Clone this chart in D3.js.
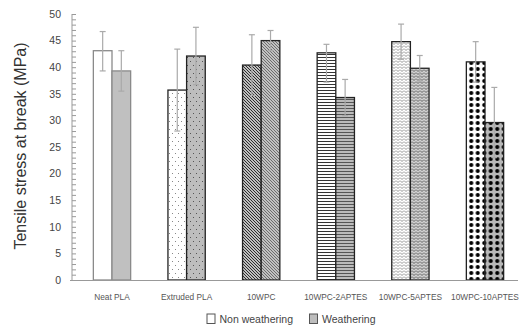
<!DOCTYPE html>
<html>
<head>
<meta charset="utf-8">
<script src="https://cdn.jsdelivr.net/npm/d3@7"></script>
<style>
  body { margin: 0; background: #fff; }
  svg { display: block; }
</style>
</head>
<body>
<script>
// data
var categories = ["Neat PLA", "Extruded PLA", "10WPC", "10WPC-2APTES", "10WPC-5APTES", "10WPC-10APTES"];
var seriesNames = ["Non weathering", "Weathering"];
var nonWeathering = [43.1, 35.7, 40.4, 42.7, 44.8, 41.0];
var weathering = [39.3, 42.1, 45.0, 34.3, 39.8, 29.6];
var nonErrUp = [3.6, 7.7, 5.7, 1.6, 3.3, 3.8];
var nonErrDown = [3.8, 7.7, 5.7, 5.5, 3.3, 3.8];
var weathErrUp = [3.8, 5.4, 1.9, 3.4, 2.4, 6.6];
var weathErrDown = [3.8, 5.4, 1.9, 3.4, 2.4, 6.6];
var yTicks = [0, 5, 10, 15, 20, 25, 30, 35, 40, 45, 50];

var width = 520, height = 331;
var svg = d3.select("body").append("svg").attr("width", width).attr("height", height)
  .style("font-family", "'Liberation Sans', Arial, sans-serif");

var defs = svg.append("defs");

function pat(id, w, h, bg) {
  var p = defs.append("pattern").attr("id", id).attr("patternUnits", "userSpaceOnUse")
    .attr("width", w).attr("height", h);
  p.append("rect").attr("width", w).attr("height", h).attr("fill", bg);
  return p;
}

// plain
pat("p0a", 4, 4, "#fff");
pat("p0b", 4, 4, "#c0c0c0");

// sparse dots
var d1 = pat("p1a", 6, 8, "#fff");
d1.append("rect").attr("x", 1).attr("y", 1).attr("width", 1).attr("height", 1).attr("fill", "#888");
d1.append("rect").attr("x", 4).attr("y", 5).attr("width", 1).attr("height", 1).attr("fill", "#888");
var d2 = pat("p1b", 6, 8, "#bdbdbd");
d2.append("rect").attr("x", 1).attr("y", 1).attr("width", 1).attr("height", 1).attr("fill", "#555");
d2.append("rect").attr("x", 4).attr("y", 5).attr("width", 1).attr("height", 1).attr("fill", "#555");

// diagonal hatch
var h1 = pat("p2a", 3, 3, "#fff");
h1.append("path").attr("d", "M-1,-1 L4,4 M-1,2 L1,4 M2,-1 L4,1").attr("stroke", "#222").attr("stroke-width", 1.1);
var h2 = pat("p2b", 3, 3, "#e6e6e6");
h2.append("path").attr("d", "M-1,-1 L4,4 M-1,2 L1,4 M2,-1 L4,1").attr("stroke", "#666").attr("stroke-width", 1.1);

// horizontal lines
var l1 = pat("p3a", 4, 3, "#fff");
l1.append("rect").attr("y", 0).attr("width", 4).attr("height", 1).attr("fill", "#333");
var l2 = pat("p3b", 4, 3, "#bbb");
l2.append("rect").attr("y", 0).attr("width", 4).attr("height", 1).attr("fill", "#555");

// zigzag
var z1 = pat("p4a", 4, 3, "#fff");
z1.append("path").attr("d", "M0,0.5 L2,2.5 L4,0.5").attr("fill", "none").attr("stroke", "#777").attr("stroke-width", 0.8);
var z2 = pat("p4b", 4, 3, "#d0d0d0");
z2.append("path").attr("d", "M0,0.5 L2,2.5 L4,0.5").attr("fill", "none").attr("stroke", "#444").attr("stroke-width", 0.8);

// big dots
var c1 = pat("p5a", 6.5, 6, "#fff");
c1.append("circle").attr("cx", 3.25).attr("cy", 3).attr("r", 2.1).attr("fill", "#000");
var c2 = pat("p5b", 6.5, 6, "#b8b8b8");
c2.append("circle").attr("cx", 3.25).attr("cy", 3).attr("r", 2.1).attr("fill", "#000");

var y = d3.scaleLinear().domain([0, 50]).range([280, 14]);
var x0 = d3.scaleBand().domain(categories).range([74.7, 522.3]);
var x1 = d3.scaleBand().domain(seriesNames).range([0, x0.bandwidth() / 2]);
var off = x0.bandwidth() / 4;

// y axis: labels and minor ticks
var axisX = 72;
svg.append("g").attr("transform", "translate(" + axisX + ",0)")
  .call(d3.axisLeft(y).tickValues(yTicks).tickSize(0).tickPadding(11))
  .call(function (g) {
    g.select(".domain").remove();
    g.selectAll("text").attr("fill", "#444").style("font-size", "10.5px")
      .style("font-family", "'Liberation Sans', Arial, sans-serif");
  });
svg.append("g").attr("transform", "translate(" + axisX + ",0)")
  .call(d3.axisRight(y).tickValues(d3.range(0, 51, 1)).tickSize(4).tickFormat(""))
  .call(function (g) {
    g.select(".domain").attr("stroke", "#999").attr("d", "M0," + y(50) + "V" + y(0));
    g.selectAll(".tick line").attr("stroke", "#999");
  });

var rows = categories.map(function (c, i) {
  return [
    { cat: c, s: seriesNames[0], v: nonWeathering[i], up: nonErrUp[i], dn: nonErrDown[i], fill: "url(#p" + i + "a)" },
    { cat: c, s: seriesNames[1], v: weathering[i], up: weathErrUp[i], dn: weathErrDown[i], fill: "url(#p" + i + "b)" }
  ];
});
var all = [].concat.apply([], rows);

svg.append("g").selectAll("rect").data(all).enter().append("rect")
  .attr("x", function (d) { return x0(d.cat) + off + x1(d.s); })
  .attr("y", function (d) { return y(d.v); })
  .attr("width", x1.bandwidth())
  .attr("height", function (d) { return y(0) - y(d.v); })
  .attr("fill", function (d) { return d.fill; })
  .attr("stroke", function (d) { return d.cat === "Neat PLA" ? "#8a8a8a" : "#222"; })
  .attr("stroke-width", 1.3);

// x axis baseline
svg.append("line").attr("x1", 70).attr("x2", 518).attr("y1", y(0) + 0.5).attr("y2", y(0) + 0.5)
  .attr("stroke", "#999").attr("stroke-width", 1);

// error bars
var eb = svg.append("g").attr("stroke", "#aaa").attr("stroke-width", 1.2);
all.forEach(function (d) {
  var cx = x0(d.cat) + off + x1(d.s) + x1.bandwidth() / 2;
  eb.append("line").attr("x1", cx).attr("x2", cx).attr("y1", y(d.v + d.up)).attr("y2", y(d.v - d.dn));
  eb.append("line").attr("x1", cx - 3).attr("x2", cx + 3).attr("y1", y(d.v + d.up)).attr("y2", y(d.v + d.up));
  eb.append("line").attr("x1", cx - 3).attr("x2", cx + 3).attr("y1", y(d.v - d.dn)).attr("y2", y(d.v - d.dn));
});

// category labels
svg.append("g").selectAll("text").data(categories).enter().append("text")
  .attr("x", function (c) { return x0(c) + x0.bandwidth() / 2; })
  .attr("y", 300)
  .attr("text-anchor", "middle")
  .attr("fill", "#555")
  .style("font-size", "8.3px")
  .text(function (c) { return c; });

// y title
svg.append("text")
  .attr("transform", "translate(26,146) rotate(-90)")
  .attr("text-anchor", "middle")
  .attr("fill", "#333")
  .style("font-size", "16px")
  .text("Tensile stress at break (MPa)");

// legend
var legX = [207, 309.5];
var leg = svg.append("g").selectAll("g").data(seriesNames).enter().append("g")
  .attr("transform", function (d, i) { return "translate(" + legX[i] + ",314)"; });
leg.append("rect").attr("width", 8).attr("height", 9.5)
  .attr("fill", function (d, i) { return i === 0 ? "#fff" : "#bdbdbd"; })
  .attr("stroke", "#555").attr("stroke-width", 1);
leg.append("text").attr("x", 12.5).attr("y", 8.6).attr("fill", "#444")
  .style("font-size", "10.5px")
  .text(function (d) { return d; });
</script>
</body>
</html>
